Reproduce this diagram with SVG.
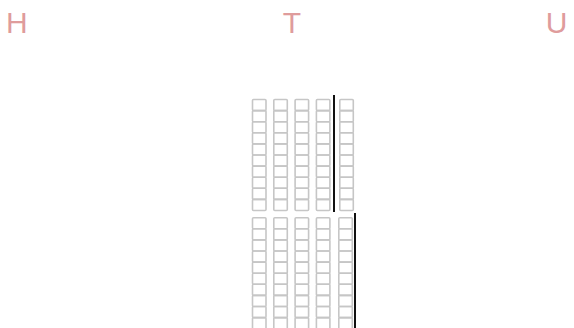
<svg xmlns="http://www.w3.org/2000/svg" width="574" height="328" viewBox="0 0 574 328">
<style>
.lbl{font-family:"Liberation Sans",Arial,sans-serif;font-size:30px;fill:#df9c9c}
.c{fill:none;stroke:#c6c6c6;stroke-width:1.6}
.bar{stroke:#111;stroke-width:2}
</style>
<defs>
<g id="col">
<rect class="c" x="0" y="0" width="13.5" height="11.1" rx="1"/>
<rect class="c" x="0" y="11.1" width="13.5" height="11.1" rx="1"/>
<rect class="c" x="0" y="22.2" width="13.5" height="11.1" rx="1"/>
<rect class="c" x="0" y="33.3" width="13.5" height="11.1" rx="1"/>
<rect class="c" x="0" y="44.4" width="13.5" height="11.1" rx="1"/>
<rect class="c" x="0" y="55.5" width="13.5" height="11.1" rx="1"/>
<rect class="c" x="0" y="66.6" width="13.5" height="11.1" rx="1"/>
<rect class="c" x="0" y="77.7" width="13.5" height="11.1" rx="1"/>
<rect class="c" x="0" y="88.8" width="13.5" height="11.1" rx="1"/>
<rect class="c" x="0" y="99.9" width="13.5" height="11.1" rx="1"/>
</g>
</defs>
<g id="labels">
<text class="lbl" x="6" y="32.5">H</text>
<text class="lbl" x="292" y="32.5" text-anchor="middle">T</text>
<text class="lbl" x="567.5" y="32.5" text-anchor="end">U</text>
</g>
<g id="top-block">
<use href="#col" x="252.5" y="99.5"/>
<use href="#col" x="273.8" y="99.5"/>
<use href="#col" x="295.1" y="99.5"/>
<use href="#col" x="316.4" y="99.5"/>
<use href="#col" x="339.8" y="99.5"/>
</g>
<g id="bottom-block">
<use href="#col" x="252.5" y="217.7"/>
<use href="#col" x="273.8" y="217.7"/>
<use href="#col" x="295.1" y="217.7"/>
<use href="#col" x="316.4" y="217.7"/>
<use href="#col" x="338.8" y="217.7"/>
</g>
<g id="bars">
<line class="bar" x1="334" y1="95" x2="334" y2="212"/>
<line class="bar" x1="355" y1="213" x2="355" y2="328"/>
</g>
</svg>
